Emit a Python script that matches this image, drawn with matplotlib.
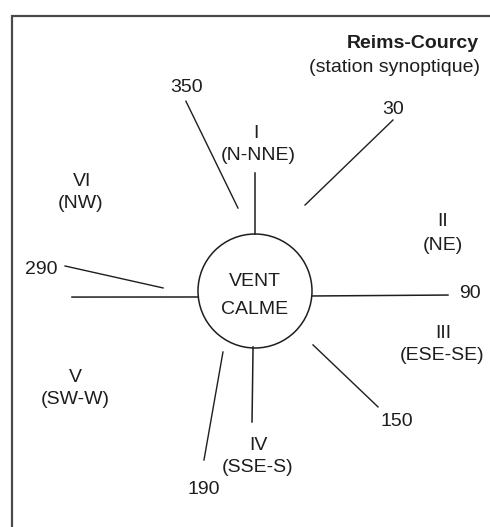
import numpy as np
import matplotlib
matplotlib.use("Agg")
import matplotlib.pyplot as plt
from matplotlib.patches import Circle

plt.rcParams['font.family'] = ['Liberation Sans', 'DejaVu Sans']

# ---- data (bearing in degrees, radius in px from the centre) ----
# sector boundary lines: labels, inner point, outer point
boundary_labels = ["350", "30", "290", "150", "190"]
boundary_in_bearing = [348.4, 30.2, 271.9, 132.9, 207.7]
boundary_in_radius = [84.7, 99.5, 92.0, 79.2, 68.9]
boundary_out_bearing = [340.0, 38.9, 277.5, 133.3, 196.8]
boundary_out_radius = [202.0, 219.7, 191.6, 169.0, 176.5]

# bars attached to the calm circle (N, E, S, W)
bar_names = ["N", "E", "S", "W"]
bar_in_bearing = [0.0, 95.0, 182.0, 264.0]
bar_in_radius = [57.0, 57.2, 56.0, 57.3]
bar_out_bearing = [0.0, 91.2, 181.3, 268.1]
bar_out_radius = [118.0, 193.0, 131.0, 183.1]

# sector labels
sector_numerals = ["I", "II", "III", "IV", "V", "VI"]
sector_names = ["(N-NNE)", "(NE)", "(ESE-SE)", "(SSE-S)", "(SW-W)", "(NW)"]

title = "Reims-Courcy"
subtitle = "(station synoptique)"
calm_text = ["VENT", "CALME"]

# ---- layout ----
W, H = 490, 527
cx, cy, rc = 255, 291, 57
ink = "#1e1e1e"

fig = plt.figure(figsize=(W / 100, H / 100), dpi=100)
ax = fig.add_axes([0, 0, 1, 1])
ax.set_xlim(0, W)
ax.set_ylim(H, 0)
ax.axis("off")


def to_xy(b, r):
    b = np.radians(b)
    return cx + r * np.sin(b), cy - r * np.cos(b)


# frame
ax.plot([12, 12, W], [H, 16, 16], color="#4a4a4a", lw=1.6, solid_joinstyle="miter")

# calm circle
ax.add_patch(Circle((cx, cy), rc, fill=False, ec=ink, lw=1.1))

for bi, ri, bo, ro in zip(bar_in_bearing, bar_in_radius, bar_out_bearing, bar_out_radius):
    x0, y0 = to_xy(bi, ri)
    x1, y1 = to_xy(bo, ro)
    ax.plot([x0, x1], [y0, y1], color=ink, lw=1.1)

for bi, ri, bo, ro in zip(boundary_in_bearing, boundary_in_radius, boundary_out_bearing, boundary_out_radius):
    x0, y0 = to_xy(bi, ri)
    x1, y1 = to_xy(bo, ro)
    ax.plot([x0, x1], [y0, y1], color=ink, lw=1.0)

fs = 14
# boundary labels
bl_pos = {"350": (187, 88), "30": (393, 110), "290": (41, 269), "150": (397, 422), "190": (204, 489)}
for lab in boundary_labels:
    x, y = bl_pos[lab]
    ax.text(x, y, lab, ha="center", va="center", fontsize=fs, color=ink)
ax.text(470, 293, "90", ha="center", va="center", fontsize=fs, color=ink)

# sector labels
num_pos = [(256, 133), (443, 222), (443, 333), (258, 445), (75, 377), (82, 182)]
name_pos = [(258, 156), (443, 245), (442, 355), (258, 467), (75, 400), (81, 203)]
for t, (x, y) in zip(sector_numerals, num_pos):
    ax.text(x, y, t, ha="center", va="center", fontsize=fs, color=ink)
for t, (x, y) in zip(sector_names, name_pos):
    ax.text(x, y, t, ha="center", va="center", fontsize=fs, color=ink)

# calm text
ax.text(255, 281, calm_text[0], ha="center", va="center", fontsize=14, color=ink)
ax.text(255, 310, calm_text[1], ha="center", va="center", fontsize=14, color=ink)

# title
ax.text(479, 44, title, ha="right", va="center", fontsize=fs, fontweight="bold", color=ink)
ax.text(480, 67, subtitle, ha="right", va="center", fontsize=fs, color=ink)

fig.savefig("out.png", dpi=100, facecolor="white")
